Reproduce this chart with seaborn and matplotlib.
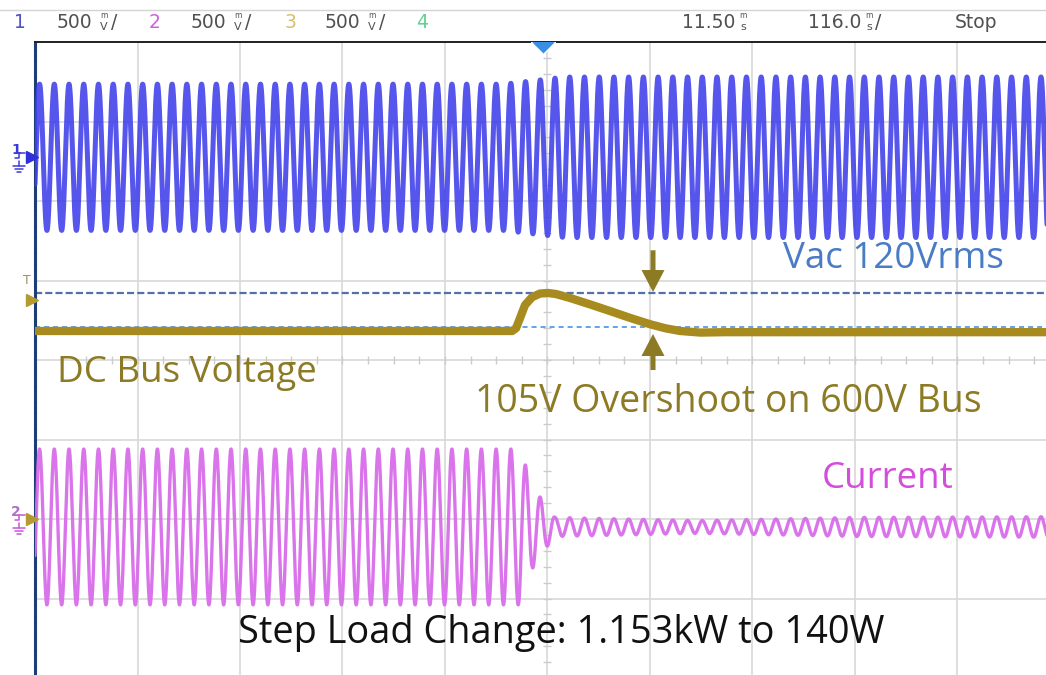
import numpy as np
import pandas as pd
import matplotlib
matplotlib.use("Agg")
import matplotlib.pyplot as plt
from matplotlib.lines import Line2D
from matplotlib.transforms import blended_transform_factory
import seaborn as sns

# ---------------- scope settings ----------------
time_per_div_ms = 116.0
n_xdiv = 10
n_ydiv = 8
x_minor_per_div = 4
y_minor_per_div = 5
line_freq_hz = 60.0

# ---------------- channel 1: line voltage (divisions) ----------------
vac_offset = 2.55
vac_env_t = [-580.0, -50.0, 20.0, 580.0]
vac_env_amp = [0.92, 0.92, 1.01, 1.01]
vac_peak_t = 8.5

# ---------------- channel 3: DC bus voltage (divisions) ----------------
bus_t = [-580.0, -40.0, -35.6, -31.0, -25.5, -17.5, -8.5, 0.6, 9.6, 25.5,
         48.0, 70.7, 93.4, 116.0, 133.0, 150.0, 173.0, 200.0, 580.0]
bus_v = [0.365, 0.365, 0.40, 0.53, 0.69, 0.79, 0.836, 0.843, 0.83, 0.78,
         0.70, 0.616, 0.53, 0.45, 0.40, 0.365, 0.345, 0.35, 0.35]
cursor_hi = 0.843
cursor_lo = 0.415
trig_level = 1.0
bus_marker = 0.755
arrow_t = 119.4
arrow_down = (1.38, 0.855)
arrow_up = (-0.126, 0.327)

# ---------------- channel 2: input current (divisions) ----------------
cur_offset = -2.10
cur_marker = -2.0
cur_env_t = [-580.0, -31.0, -17.5, -8.5, -0.6, 8.5, 170.0, 350.0, 580.0]
cur_env_amp = [0.98, 0.98, 0.53, 0.38, 0.25, 0.12, 0.08, 0.12, 0.13]

# ---------------- header readouts ----------------
ch_labels = ["1", "2", "3", "4"]
ch_scale = ["500", "500", "500", None]
delay_text = "11.50"
timebase_text = "116.0"
run_state = "Stop"

# ---------------- annotation texts ----------------
txt_vac = "Vac 120Vrms"
txt_bus = "DC Bus Voltage"
txt_over = "105V Overshoot on 600V Bus"
txt_cur = "Current"
txt_step = "Step Load Change: 1.153kW to 140W"

# colours
c_vac = "#4343EC"
c_cur = "#D86DEA"
c_bus = "#A88B1E"
c_olive = "#8C7A24"
c_vac_txt = "#4A7CC6"
c_cur_txt = "#D34FDB"
c_grid = "#D8D8D8"
c_hdr = "#505050"

sns.set_theme(style="white")
plt.rcParams["font.family"] = ["DejaVu Sans"]

W, H = 1046, 675
fig = plt.figure(figsize=(W / 100, H / 100), dpi=100)
fig.patch.set_facecolor("white")

def fx(px):
    return px / W

def fy(py):
    return 1 - py / H

ax_left, ax_top = 35, 42
div_w, div_h = 102.5, 79.5
ax = fig.add_axes([fx(ax_left), fy(ax_top + n_ydiv * div_h),
                   n_xdiv * div_w / W, n_ydiv * div_h / H])
half_t = n_xdiv / 2 * time_per_div_ms
ax.set_xlim(-half_t, half_t)
ax.set_ylim(-n_ydiv / 2, n_ydiv / 2)
ax.set_facecolor("white")

# graticule
ax.set_xticks(np.arange(-n_xdiv / 2, n_xdiv / 2 + 1) * time_per_div_ms)
ax.set_yticks(np.arange(-n_ydiv / 2, n_ydiv / 2 + 1))
ax.grid(True, color=c_grid, lw=1.2)
ax.tick_params(length=0, labelbottom=False, labelleft=False)
for s in ["right", "bottom"]:
    ax.spines[s].set_visible(False)
ax.spines["top"].set_color("#202020")
ax.spines["top"].set_linewidth(1.4)
ax.spines["left"].set_color("#1E3C78")
ax.spines["left"].set_linewidth(2.2)
ax.spines["left"].set_linestyle((0, (1.2, 0.6)))

mx = np.arange(-n_xdiv / 2 * x_minor_per_div, n_xdiv / 2 * x_minor_per_div + 1) * time_per_div_ms / x_minor_per_div
my = np.arange(-n_ydiv / 2 * y_minor_per_div, n_ydiv / 2 * y_minor_per_div + 1) / y_minor_per_div
ax.plot(mx, np.zeros_like(mx), ls="none", marker="|", ms=6, mew=1.0, color="#CCCCCC", zorder=1)
ax.plot(np.zeros_like(my), my, ls="none", marker="_", ms=6, mew=1.0, color="#CCCCCC", zorder=1)

# cursors
ax.axhline(cursor_hi, color="#5470A8", lw=1.6, ls=(0, (3.2, 1.4)), zorder=2)
ax.axhline(cursor_lo, color="#5A9BE6", lw=1.3, ls=(0, (2.8, 2.2)), zorder=2)

# traces
t = np.arange(-half_t, half_t + 0.05, 0.05)
w = 2 * np.pi * line_freq_hz / 1000.0
vac = vac_offset + np.interp(t, vac_env_t, vac_env_amp) * np.cos(w * (t - vac_peak_t))
cur = cur_offset + np.interp(t, cur_env_t, cur_env_amp) * np.cos(w * (t - vac_peak_t))

sns.lineplot(x=t, y=vac, ax=ax, color=c_vac, lw=3.6, alpha=0.9,
             estimator=None, sort=False, legend=False, zorder=3)
bus_df = pd.DataFrame({"t": bus_t, "v": bus_v})
sns.lineplot(data=bus_df, x="t", y="v", ax=ax, color=c_bus, lw=6,
             estimator=None, sort=False, legend=False, zorder=4,
             solid_capstyle="butt")
sns.lineplot(x=t, y=cur, ax=ax, color=c_cur, lw=2.4, alpha=0.95,
             estimator=None, sort=False, legend=False, zorder=3)
ax.set_xlabel("")
ax.set_ylabel("")

# overshoot arrows
px_to_ms = time_per_div_ms / div_w
px_to_div = 1 / div_h
for tail, tip in [arrow_down, arrow_up]:
    ax.arrow(arrow_t, tail, 0, tip - tail, width=5 * px_to_ms,
             head_width=23 * px_to_ms, head_length=22 * px_to_div,
             length_includes_head=True, color=c_olive, lw=0, zorder=6)

# trigger position marker
ax.plot([-5.0], [n_ydiv / 2], marker="D", ms=12, color="#3A8EE6",
        mec="white", mew=1.0, clip_on=True, zorder=7)

# channel markers at the left edge
tr = blended_transform_factory(ax.transAxes, ax.transData)
edge = -3.0 / (n_xdiv * div_w)

def ground(y_div, color):
    y_px = ax_top + (n_ydiv / 2 - y_div) * div_h
    for i, half in enumerate([6, 4, 2]):
        fig.add_artist(Line2D([fx(19 - half), fx(19 + half)],
                              [fy(y_px + 9 + 3 * i), fy(y_px + 9 + 3 * i)],
                              color=color, lw=1.1))
    fig.add_artist(Line2D([fx(19), fx(19)], [fy(y_px + 4), fy(y_px + 9)], color=color, lw=1.1))
    fig.add_artist(Line2D([fx(15), fx(19), fx(19), fx(25)],
                          [fy(y_px + 1), fy(y_px + 1), fy(y_px - 4), fy(y_px - 4)],
                          color=color, lw=1.1))

ax.plot([edge], [vac_offset], transform=tr, marker=">", ms=8, color="#2E2EDA", clip_on=False, zorder=8)
ground(vac_offset, "#3A3ADA")
fig.text(fx(11), fy(ax_top + (n_ydiv / 2 - vac_offset) * div_h), "1", color="#3A3ADA",
         fontsize=10, fontweight="bold", ha="left", va="bottom")

ax.plot([edge], [cur_marker], transform=tr, marker=">", ms=8, color="#B49A30", clip_on=False, zorder=8)
ground(cur_marker, "#C855D8")
fig.text(fx(11), fy(ax_top + (n_ydiv / 2 - cur_marker) * div_h), "2", color="#B070C0",
         fontsize=10, fontweight="bold", ha="left", va="bottom")

ax.plot([edge], [bus_marker], transform=tr, marker=">", ms=8, color="#B49A30", clip_on=False, zorder=8)
fig.text(fx(27), fy(ax_top + (n_ydiv / 2 - trig_level) * div_h), "T", color="#A09060",
         fontsize=9, ha="center", va="center")

# header bar
fig.add_artist(Line2D([0, 1], [fy(10), fy(10)], color="#D4D4D4", lw=1.0))
hdr_fs = 13.5
ch_cols = ["#5050C8", "#D060E0", "#D8C070", "#60D090"]
ch_x = [20, 155, 290, 422]
scale_x = [57, 191, 325]
for lab, col, x in zip(ch_labels, ch_cols, ch_x):
    fig.text(fx(x), fy(23), lab, color=col, fontsize=hdr_fs, ha="center", va="center")

def unit_stack(x, top, bottom):
    fig.text(fx(x), fy(15), top, color=c_hdr, fontsize=5.5, ha="center", va="center")
    fig.text(fx(x), fy(27), bottom, color=c_hdr, fontsize=8, ha="center", va="center")

for sc, x in zip(ch_scale, scale_x):
    if sc is None:
        continue
    fig.text(fx(x), fy(23), sc, color=c_hdr, fontsize=hdr_fs, ha="left", va="center")
    unit_stack(x + 47, "m", "V")
    fig.text(fx(x + 54), fy(23), "/", color=c_hdr, fontsize=hdr_fs, ha="left", va="center")

fig.text(fx(682), fy(23), delay_text, color=c_hdr, fontsize=hdr_fs, ha="left", va="center")
unit_stack(743, "m", "s")
fig.text(fx(808), fy(23), timebase_text, color=c_hdr, fontsize=hdr_fs, ha="left", va="center")
unit_stack(869, "m", "s")
fig.text(fx(875), fy(23), "/", color=c_hdr, fontsize=hdr_fs, ha="left", va="center")
fig.text(fx(955), fy(23), run_state, color=c_hdr, fontsize=hdr_fs, ha="left", va="center")

# annotations
ann_font = ["Open Sans", "DejaVu Sans"]
fig.text(fx(783), fy(268), txt_vac, color=c_vac_txt, fontsize=26.5, family=ann_font, va="baseline")
fig.text(fx(57), fy(382), txt_bus, color=c_olive, fontsize=26.5, family=ann_font, va="baseline")
fig.text(fx(475), fy(412), txt_over, color=c_olive, fontsize=27, family=ann_font, va="baseline")
fig.text(fx(822), fy(488), txt_cur, color=c_cur_txt, fontsize=26.5, family=ann_font, va="baseline")
fig.text(fx(238), fy(643), txt_step, color="#111111", fontsize=27.3, family=ann_font, va="baseline")

fig.savefig("out.png", dpi=100, facecolor="white")
